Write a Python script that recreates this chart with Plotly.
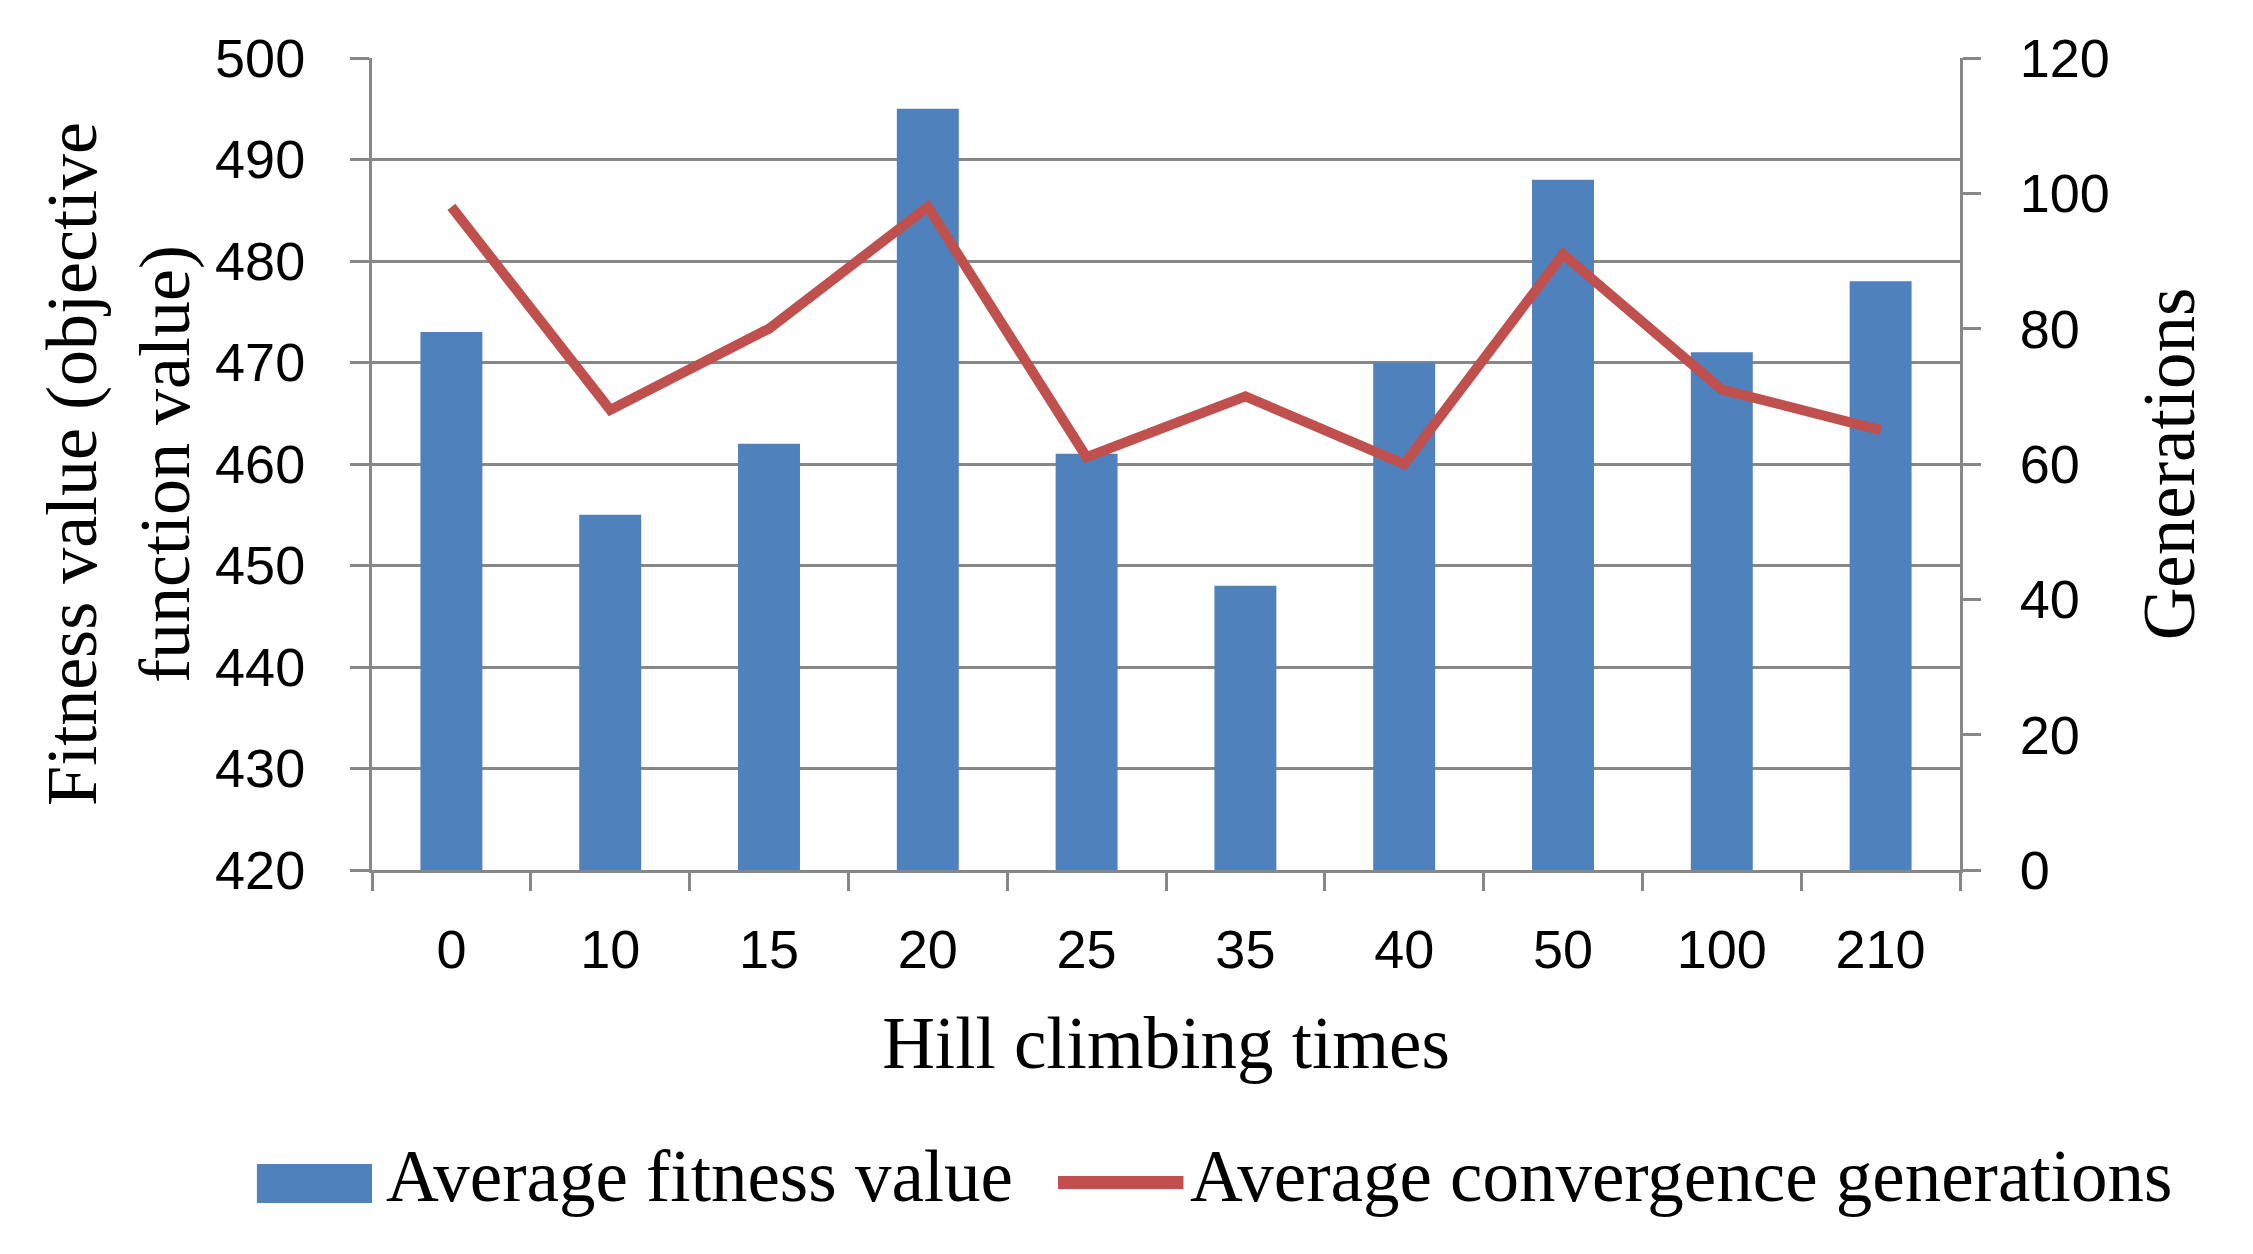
import plotly.graph_objects as go

categories = ["0", "10", "15", "20", "25", "35", "40", "50", "100", "210"]
fitness = [473, 455, 462, 495, 461, 448, 470, 488, 471, 478]
generations = [98, 68, 80, 98, 61, 70, 60, 91, 71, 65]

bar_name = "Average fitness value"
line_name = "Average convergence generations"

BLUE = "#4F81BD"
RED = "#C0504D"
GRID = "#878787"
SERIF = "Liberation Serif, Times New Roman, serif"
SANS = "Liberation Sans, Arial, sans-serif"

fig = go.Figure()
fig.add_trace(go.Bar(x=categories, y=fitness, name=bar_name,
                     marker=dict(color=BLUE, line=dict(width=0)), yaxis="y"))
fig.add_trace(go.Scatter(x=categories, y=generations, name=line_name, mode="lines",
                         line=dict(color=RED, width=10), yaxis="y2"))

# Manual legend (Excel-style wide swatches), positioned in paper coordinates
fig.add_shape(type="rect", xref="paper", yref="paper",
              x0=-0.0725, x1=0.0, y0=-0.410, y1=-0.362,
              fillcolor=BLUE, line=dict(width=0))
fig.add_shape(type="line", xref="paper", yref="paper",
              x0=0.432, x1=0.511, y0=-0.385, y1=-0.385,
              line=dict(color=RED, width=13))
fig.add_annotation(text=bar_name, xref="paper", yref="paper", x=0.0075, y=-0.377,
                   xanchor="left", yanchor="middle", showarrow=False,
                   font=dict(family=SERIF, size=73, color="black"))
fig.add_annotation(text=line_name, xref="paper", yref="paper", x=0.514, y=-0.377,
                   xanchor="left", yanchor="middle", showarrow=False,
                   font=dict(family=SERIF, size=73, color="black"))

fig.update_layout(
    width=2253, height=1254,
    margin=dict(l=364, r=301, t=50, b=392),
    paper_bgcolor="white", plot_bgcolor="white",
    bargap=0.61,
    showlegend=False,
    font=dict(family=SANS, size=54, color="black"),
    xaxis=dict(
        type="category", range=[-0.5, 9.5], automargin=False,
        showline=True, linecolor=GRID, linewidth=3,
        ticks="outside", tickson="boundaries", ticklen=18, tickwidth=3, tickcolor=GRID,
        showgrid=False, ticklabelstandoff=30,
        tickfont=dict(family=SANS, size=54, color="black"),
        title=dict(text="Hill climbing times", font=dict(family=SERIF, size=73, color="black"),
                   standoff=40),
    ),
    yaxis=dict(
        range=[420, 500], tickvals=[420, 430, 440, 450, 460, 470, 480, 490, 500],
        automargin=False,
        showline=True, linecolor=GRID, linewidth=3,
        ticks="outside", ticklen=19, tickwidth=3, tickcolor=GRID,
        showgrid=True, gridcolor=GRID, gridwidth=3, zeroline=False,
        ticklabelstandoff=34,
        tickfont=dict(family=SANS, size=54, color="black"),
        title=dict(text="Fitness value (objective<br>function value)",
                   font=dict(family=SERIF, size=72, color="black"), standoff=2),
    ),
    yaxis2=dict(
        range=[0, 120], tickvals=[0, 20, 40, 60, 80, 100, 120],
        overlaying="y", side="right", automargin=False,
        showline=True, linecolor=GRID, linewidth=3,
        ticks="outside", ticklen=18, tickwidth=3, tickcolor=GRID,
        showgrid=False, zeroline=False, ticklabelstandoff=28,
        tickfont=dict(family=SANS, size=54, color="black"),
        title=dict(text="Generations", font=dict(family=SERIF, size=73, color="black"),
                   standoff=34),
    ),
)

fig.write_html("out.html")
